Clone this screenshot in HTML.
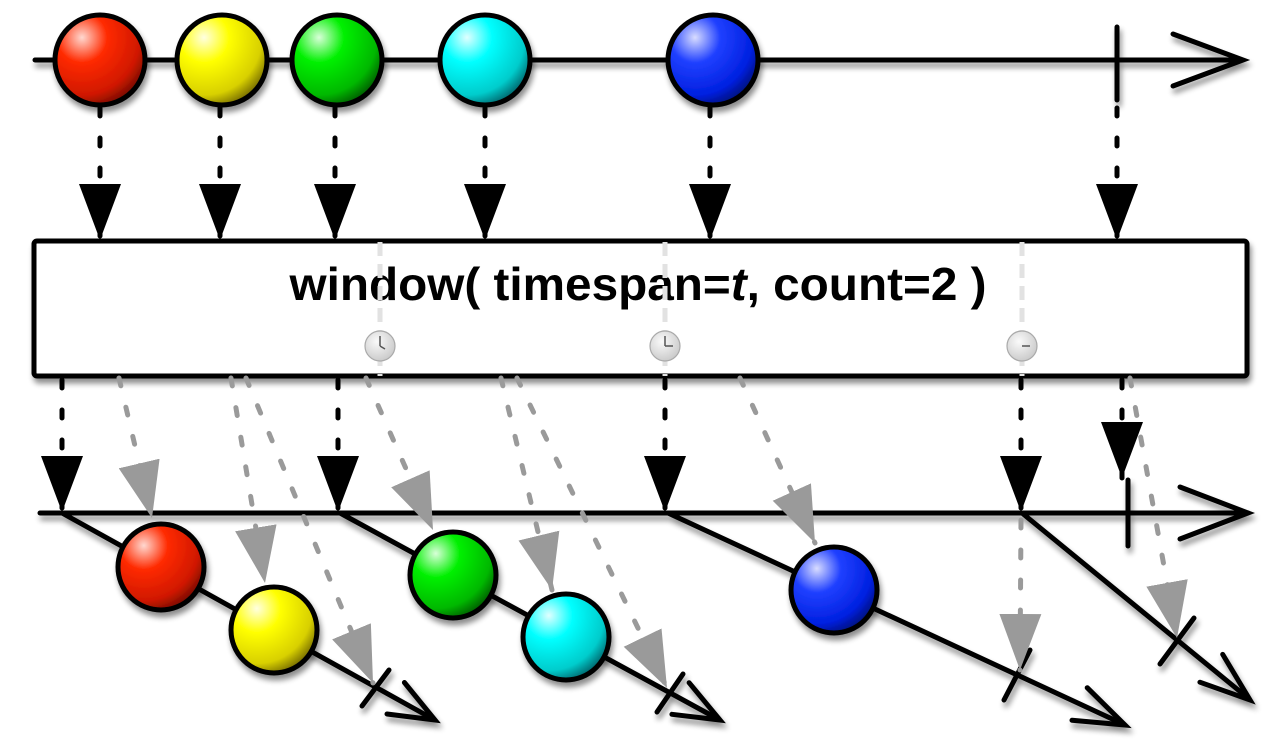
<!DOCTYPE html>
<html><head><meta charset="utf-8"><style>
html,body{margin:0;padding:0;background:#fff;}
svg{display:block;}
</style></head><body>
<svg width="1280" height="740" viewBox="0 0 1280 740" xmlns="http://www.w3.org/2000/svg">
<defs>
  <filter id="sh" x="-10%" y="-10%" width="130%" height="140%">
    <feGaussianBlur in="SourceAlpha" stdDeviation="3"/>
    <feOffset dx="2" dy="5" result="b"/>
    <feComponentTransfer><feFuncA type="linear" slope="0.45"/></feComponentTransfer>
    <feMerge><feMergeNode/><feMergeNode in="SourceGraphic"/></feMerge>
  </filter>
  <marker id="bk" markerUnits="userSpaceOnUse" markerWidth="60" markerHeight="44" refX="56" refY="21" orient="auto" viewBox="0 0 60 44">
    <path d="M0,0 L56,21 L0,42 z" fill="#000"/>
  </marker>
  <marker id="gr" markerUnits="userSpaceOnUse" markerWidth="60" markerHeight="44" refX="56" refY="21" orient="auto" viewBox="0 0 60 44">
    <path d="M0,0 L56,21 L0,42 z" fill="#9a9a9a"/>
  </marker>
  <radialGradient id="gRed" cx="0.3" cy="0.25" r="0.8"><stop offset="0" stop-color="#ffd8d0"/><stop offset="0.35" stop-color="#ff2a00"/><stop offset="0.8" stop-color="#d01800"/><stop offset="1" stop-color="#7a0c00"/></radialGradient>
  <radialGradient id="gYel" cx="0.3" cy="0.25" r="0.8"><stop offset="0" stop-color="#ffffe0"/><stop offset="0.35" stop-color="#ffff00"/><stop offset="0.8" stop-color="#d8d000"/><stop offset="1" stop-color="#7a7000"/></radialGradient>
  <radialGradient id="gGrn" cx="0.3" cy="0.25" r="0.8"><stop offset="0" stop-color="#d8ffd8"/><stop offset="0.35" stop-color="#00f000"/><stop offset="0.8" stop-color="#00b800"/><stop offset="1" stop-color="#006000"/></radialGradient>
  <radialGradient id="gCyn" cx="0.3" cy="0.25" r="0.8"><stop offset="0" stop-color="#e0ffff"/><stop offset="0.35" stop-color="#00ffff"/><stop offset="0.8" stop-color="#00cccc"/><stop offset="1" stop-color="#006a70"/></radialGradient>
  <radialGradient id="gBlu" cx="0.3" cy="0.25" r="0.8"><stop offset="0" stop-color="#d8dcff"/><stop offset="0.35" stop-color="#2040ff"/><stop offset="0.8" stop-color="#0020e0"/><stop offset="1" stop-color="#001080"/></radialGradient>
  <radialGradient id="gClk" cx="0.4" cy="0.35" r="0.7"><stop offset="0" stop-color="#fafafa"/><stop offset="1" stop-color="#c8c8c8"/></radialGradient>
</defs>

<g filter="url(#sh)" stroke="#000" stroke-width="5" stroke-linecap="round">
  <line x1="35" y1="60" x2="1240" y2="60"/>
  <path d="M1173,34 L1243,60 L1173,86" fill="none"/>
  <line x1="1117" y1="27" x2="1117" y2="100"/>
</g>
<g filter="url(#sh)" stroke="#000" stroke-width="5">
  <circle cx="100" cy="60" r="45" fill="url(#gRed)"/>
  <circle cx="222" cy="60" r="45" fill="url(#gYel)"/>
  <circle cx="337" cy="60" r="45" fill="url(#gGrn)"/>
  <circle cx="485" cy="60" r="45" fill="url(#gCyn)"/>
  <circle cx="713" cy="60" r="45" fill="url(#gBlu)"/>
</g>

<g stroke="#000" stroke-width="5" stroke-linecap="round" stroke-dasharray="8 22" fill="none">
  <line x1="100" y1="108" x2="100" y2="240" marker-end="url(#bk)"/>
  <line x1="220" y1="108" x2="220" y2="240" marker-end="url(#bk)"/>
  <line x1="335" y1="108" x2="335" y2="240" marker-end="url(#bk)"/>
  <line x1="485" y1="108" x2="485" y2="240" marker-end="url(#bk)"/>
  <line x1="710" y1="108" x2="710" y2="240" marker-end="url(#bk)"/>
  <line x1="1117" y1="108" x2="1117" y2="240" marker-end="url(#bk)"/>
</g>

<rect x="34" y="241" width="1213" height="135" rx="3" fill="#fff" stroke="#000" stroke-width="5" filter="url(#sh)"/>
<text x="638" y="300" text-anchor="middle" font-family="Liberation Sans, Arial, sans-serif" font-weight="bold" font-size="46" textLength="697" lengthAdjust="spacingAndGlyphs" fill="#000">window( timespan=<tspan font-style="italic">t</tspan>, count=2 )</text>

<g stroke="#e2e2e2" stroke-width="5" stroke-dasharray="14 8">
  <line x1="380" y1="242" x2="380" y2="376"/>
  <line x1="665" y1="242" x2="665" y2="376"/>
  <line x1="1022" y1="242" x2="1022" y2="376"/>
</g>
<g stroke="#aaa" stroke-width="1.2">
  <circle cx="380" cy="346" r="15" fill="url(#gClk)"/>
  <circle cx="665" cy="346" r="15" fill="url(#gClk)"/>
  <circle cx="1022" cy="346" r="15" fill="url(#gClk)"/>
</g>
<g stroke="#555" stroke-width="1.5">
  <line x1="380" y1="346" x2="380" y2="336"/><line x1="380" y1="346" x2="385" y2="349"/>
  <line x1="665" y1="346" x2="665" y2="336"/><line x1="665" y1="346" x2="673" y2="346"/>
  <line x1="1022" y1="346" x2="1030" y2="346"/>
</g>

<g filter="url(#sh)" stroke="#000" stroke-width="5" stroke-linecap="round" stroke-linejoin="miter" fill="none">
  <line x1="40" y1="513" x2="1248" y2="513"/>
  <path d="M1180,487 L1248,513 L1180,539"/>
  <line x1="1128" y1="480" x2="1128" y2="546"/>
  <line x1="62" y1="513" x2="433" y2="719"/>
  <line x1="340" y1="513" x2="718" y2="719"/>
  <line x1="668" y1="513" x2="1123" y2="724"/>
  <line x1="1022" y1="513" x2="1248" y2="698"/>
  <path d="M387,714 L435,720 L404.4,682.5"/>
  <path d="M671.9,714.3 L720,720 L689.1,682.7"/>
  <path d="M1072,720.3 L1125,725 L1087.2,687.7"/>
  <path d="M1199.9,682.2 L1250,700 L1222.7,654.4"/>
  <line x1="362" y1="706" x2="389" y2="670"/>
  <line x1="657" y1="712" x2="683" y2="674"/>
  <line x1="1004" y1="700" x2="1030" y2="650"/>
  <line x1="1160" y1="664" x2="1194" y2="618"/>
</g>

<g stroke="#000" stroke-width="5" stroke-linecap="round" stroke-dasharray="8 22" fill="none">
  <line x1="62" y1="380" x2="62" y2="512" marker-end="url(#bk)"/>
  <line x1="338" y1="380" x2="338" y2="512" marker-end="url(#bk)"/>
  <line x1="665" y1="380" x2="665" y2="512" marker-end="url(#bk)"/>
  <line x1="1021" y1="380" x2="1021" y2="512" marker-end="url(#bk)"/>
  <line x1="1122" y1="380" x2="1122" y2="478" marker-end="url(#bk)"/>
</g>

<g stroke="#9a9a9a" stroke-width="5" stroke-linecap="round" stroke-dasharray="8 22" fill="none">
  <line x1="119" y1="378" x2="152" y2="518" marker-end="url(#gr)"/>
  <line x1="231" y1="378" x2="265" y2="583" marker-end="url(#gr)"/>
  <line x1="246" y1="378" x2="373" y2="683" marker-end="url(#gr)"/>
  <line x1="366" y1="378" x2="433" y2="530" marker-end="url(#gr)"/>
  <line x1="501" y1="378" x2="552" y2="590" marker-end="url(#gr)"/>
  <line x1="517" y1="378" x2="667" y2="688" marker-end="url(#gr)"/>
  <line x1="740" y1="378" x2="815" y2="543" marker-end="url(#gr)"/>
  <line x1="1021" y1="520" x2="1020" y2="670" marker-end="url(#gr)"/>
  <line x1="1130" y1="378" x2="1177" y2="638" marker-end="url(#gr)"/>
</g>

<g filter="url(#sh)" stroke="#000" stroke-width="5">
  <circle cx="161" cy="567" r="43" fill="url(#gRed)"/>
  <circle cx="274" cy="630" r="43" fill="url(#gYel)"/>
  <circle cx="453" cy="575" r="43" fill="url(#gGrn)"/>
  <circle cx="566" cy="637" r="43" fill="url(#gCyn)"/>
  <circle cx="834" cy="590" r="43" fill="url(#gBlu)"/>
</g>
</svg>
</body></html>
